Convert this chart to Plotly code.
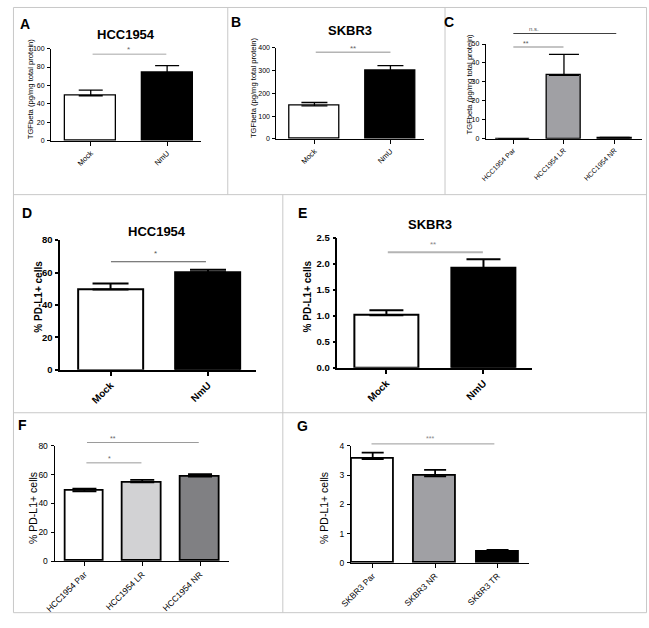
import plotly.graph_objects as go

W, H = 649, 628

# ---------------- data ----------------
a_cats = ["Mock", "NmU"]
a_vals = [48.9, 74.0]
a_err = [6.0, 7.5]

b_cats = ["Mock", "NmU"]
b_vals = [145, 298]
b_err = [14.5, 23]

c_cats = ["HCC1954 Par", "HCC1954 LR", "HCC1954 NR"]
c_vals = [0, 33.4, 0.3]
c_err = [0, 11.1, 0.3]

d_cats = ["Mock", "NmU"]
d_vals = [49.6, 60.2]
d_err = [3.7, 1.5]

e_cats = ["Mock", "NmU"]
e_vals = [1.01, 1.92]
e_err = [0.10, 0.17]

f_cats = ["HCC1954 Par", "HCC1954 LR", "HCC1954 NR"]
f_vals = [48.5, 54.6, 58.6]
f_err = [1.8, 1.8, 1.8]

g_cats = ["SKBR3 Par", "SKBR3 NR", "SKBR3 TR"]
g_vals = [3.55, 2.96, 0.38]
g_err = [0.22, 0.22, 0.06]

tgf_title = "TGFbeta (pg/mg total protein)"
pd_title = "% PD-L1+ cells"

FONT = "Arial, Liberation Sans, sans-serif"


def PX(x):
    return x / W


def PY(y):
    return 1 - y / H


panels = [
    dict(letter="A", cats=a_cats, vals=a_vals, err=a_err, colors=["white", "black"],
         x0=40.7, x1=193, yt=43.3, yb=137.3, xr=[-0.52, 1.44], yr=[0, 100], dt=20, fmt="",
         tf=7, xf=7.5, bold=False, lw=1.3, aw=1, cap=12, title="HCC1954", tpos=(117, 28.5),
         ylab=tgf_title, ylpos=(20, 85), ylf=7.6, lpos=(14, 18)),
    dict(letter="B", cats=b_cats, vals=b_vals, err=b_err, colors=["white", "black"],
         x0=270, x1=420, yt=42.3, yb=135.3, xr=[-0.5, 1.44], yr=[0, 400], dt=100, fmt="",
         tf=7, xf=7.5, bold=False, lw=1.3, aw=1, cap=13, title="SKBR3", tpos=(345, 25),
         ylab=tgf_title, ylpos=(246.7, 84), ylf=7.6, lpos=(229, 16)),
    dict(letter="C", cats=c_cats, vals=c_vals, err=c_err, colors=["white", "#a0a0a4", "#505050"],
         x0=483, x1=642, yt=38.7, yb=135, xr=[-0.54, 2.54], yr=[0, 50], dt=10, fmt="",
         tf=7, xf=7, bold=False, lw=1.3, aw=1, cap=15, title=None, tpos=None,
         ylab=tgf_title, ylpos=(466.7, 80), ylf=7.6, lpos=(446, 16)),
    dict(letter="D", cats=d_cats, vals=d_vals, err=d_err, colors=["white", "black"],
         x0=50, x1=249, yt=238.3, yb=370.3, xr=[-0.517, 1.49], yr=[0, 80], dt=20, fmt="",
         tf=9.5, xf=10, bold=True, lw=2, aw=1.5, cap=18, title="HCC1954", tpos=(149, 230),
         ylab=pd_title, ylpos=(28.3, 296), ylf=10, lpos=(16, 211)),
    dict(letter="E", cats=e_cats, vals=e_vals, err=e_err, colors=["white", "black"],
         x0=332, x1=530, yt=236, yb=368.3, xr=[-0.505, 1.50], yr=[0, 2.5], dt=0.5, fmt=".1f",
         tf=9.5, xf=10, bold=True, lw=2, aw=1.5, cap=17, title="SKBR3", tpos=(426, 222.7),
         ylab=pd_title, ylpos=(301.7, 296), ylf=10, lpos=(297, 211)),
    dict(letter="F", cats=f_cats, vals=f_vals, err=f_err, colors=["white", "#d2d2d4", "#808083"],
         x0=44.3, x1=221.7, yt=447.7, yb=565, xr=[-0.517, 2.50], yr=[0, 80], dt=20, fmt="",
         tf=8.5, xf=8.5, bold=False, lw=1.8, aw=1, cap=12, title=None, tpos=None,
         ylab=pd_title, ylpos=(22.3, 511), ylf=10.5, lpos=(12, 426)),
    dict(letter="G", cats=g_cats, vals=g_vals, err=g_err, colors=["white", "#a0a0a4", "black"],
         x0=345.7, x1=526.7, yt=447.7, yb=566.7, xr=[-0.35, 2.5], yr=[0, 4], dt=1, fmt="",
         tf=8.5, xf=8.5, bold=False, lw=1.8, aw=1, cap=11, title=None, tpos=None,
         ylab=pd_title, ylpos=(318.3, 511), ylf=10.5, lpos=(297, 427)),
]

fig = go.Figure()
annotations = []
shapes = []


def txt(s, x, y, size, bold=False, color="black", angle=0):
    if bold:
        s = "<b>" + s + "</b>"
    annotations.append(dict(text=s, x=PX(x), y=PY(y), xref="paper", yref="paper",
                            showarrow=False, xanchor="center", yanchor="middle",
                            textangle=angle, font=dict(family=FONT, size=size, color=color)))


def hline(x0, x1, y, color, width):
    shapes.append(dict(type="line", xref="paper", yref="paper", x0=PX(x0), x1=PX(x1),
                       y0=PY(y), y1=PY(y), line=dict(color=color, width=width)))


for i, p in enumerate(panels):
    n = "" if i == 0 else str(i + 1)
    fig.add_trace(go.Bar(
        x=p["cats"], y=p["vals"], width=0.667, xaxis="x" + n, yaxis="y" + n,
        marker=dict(color=p["colors"], line=dict(color="black", width=p["lw"])),
        error_y=dict(type="data", array=p["err"], arrayminus=[0] * len(p["err"]),
                     symmetric=False, color="black", thickness=p["lw"], width=p["cap"]),
        showlegend=False, hoverinfo="skip"))
    fig.layout["xaxis" + n] = dict(
        domain=[PX(p["x0"]), PX(p["x1"])], range=p["xr"], anchor="y" + n,
        showline=True, linecolor="black", linewidth=p["aw"], ticks="outside",
        ticklen=4, tickwidth=p["aw"], tickcolor="black", tickangle=-45,
        tickfont=dict(family=FONT, size=p["xf"], color="black",
                      weight="bold" if p["bold"] else "normal"),
        showgrid=False, zeroline=False, fixedrange=True, type="category")
    fig.layout["yaxis" + n] = dict(
        domain=[PY(p["yb"]), PY(p["yt"])], range=p["yr"], anchor="x" + n,
        showline=True, linecolor="black", linewidth=p["aw"], ticks="outside",
        ticklen=3, tickwidth=p["aw"], tickcolor="black", tick0=0, dtick=p["dt"],
        tickformat=p["fmt"], ticklabelstandoff=1,
        tickfont=dict(family=FONT, size=p["tf"], color="black",
                      weight="bold" if p["bold"] else "normal"),
        showgrid=False, zeroline=False, fixedrange=True)
    txt(p["letter"], p["lpos"][0], p["lpos"][1], 14, bold=True)
    if p["title"]:
        txt(p["title"], p["tpos"][0], p["tpos"][1], 13, bold=True)
    txt(p["ylab"], p["ylpos"][0], p["ylpos"][1], p["ylf"], bold=p["bold"], angle=-90)

# significance markers
hline(83, 158, 49, "#c4c4c4", 1.5); txt("*", 120, 44, 8, color="#666")
hline(310, 386, 47, "#b4b4b4", 1.5); txt("**", 348, 43, 8, color="#666")
hline(511, 615.7, 28, "#404040", 1); txt("n.s.", 532, 23, 6, color="#555")
hline(511, 562, 41.7, "#c4c4c4", 2); txt("**", 524, 38, 7, color="#555")
hline(101.7, 198.3, 260.3, "#555555", 1); txt("*", 146.7, 252, 8, color="#555")
hline(383.3, 480, 250.7, "#b4b4b4", 2); txt("**", 429.3, 243, 8, color="#888")
hline(77.3, 191, 444.3, "#9a9a9a", 1); txt("**", 104, 440, 7, color="#666")
hline(76.7, 132.7, 465, "#9a9a9a", 1); txt("*", 100.7, 461, 7, color="#666")
hline(366.7, 491.7, 445.7, "#9a9a9a", 1); txt("***", 426, 440, 7, color="#888")

# panel borders
BC = "#c8c8c8"
shapes.append(dict(type="rect", xref="paper", yref="paper", x0=PX(2.5), x1=PX(646.5),
                   y0=PY(617.5), y1=PY(1.5), line=dict(color=BC, width=1)))
hline(2.5, 646.5, 192, BC, 1)
hline(2.5, 646.5, 414, BC, 1)
for xv, ya, yb in [(220.5, 1.5, 192), (441.5, 1.5, 192), (276.5, 192, 617.5)]:
    shapes.append(dict(type="line", xref="paper", yref="paper", x0=PX(xv), x1=PX(xv),
                       y0=PY(ya), y1=PY(yb), line=dict(color=BC, width=1)))

fig.update_layout(margin=dict(l=0, r=0, t=0, b=0),
                  paper_bgcolor="white", plot_bgcolor="white",
                  annotations=annotations, shapes=shapes, bargap=0,
                  font=dict(family=FONT))

fig.write_html("out.html", config={"displayModeBar": False},
               default_width="649px",
               default_height="628px; position:absolute; left:0; top:0",
               post_script="document.body.style.margin='0';")
